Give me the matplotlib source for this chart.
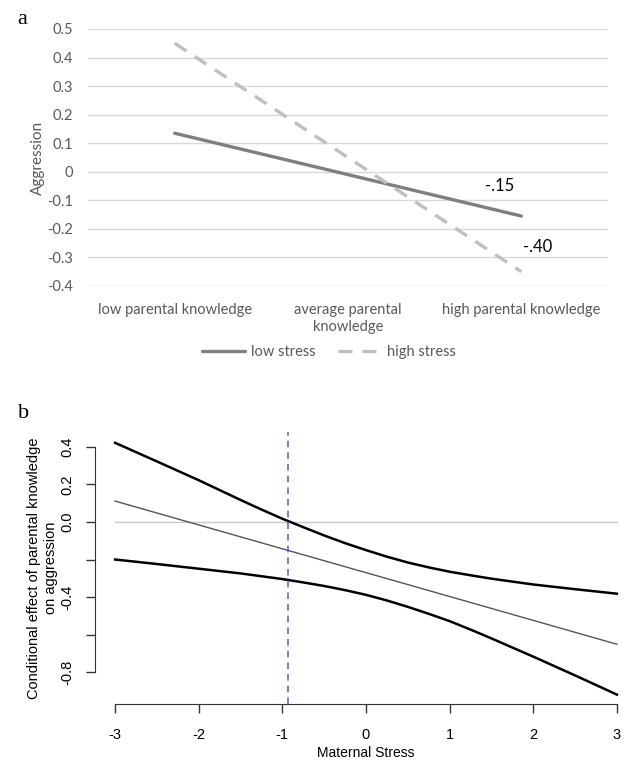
import matplotlib.pyplot as plt
import numpy as np

# panel a data (simple slopes)
categories = ['low parental knowledge', 'average parental\nknowledge', 'high parental knowledge']
low_stress = [0.135, -0.01, -0.155]
high_stress = [0.45, 0.05, -0.35]
slope_labels = ['-.15', '-.40']

# panel b data (Johnson-Neyman plot)
stress = [-3, -2.5, -2, -1.5, -1.25, -1, -0.75, -0.5, -0.25, 0, 0.25, 0.5, 0.75, 1, 1.25, 1.5, 2, 2.5, 3]
ci_upper = [0.421, 0.322, 0.222, 0.117, 0.066, 0.017, -0.028, -0.072, -0.113, -0.150,
            -0.185, -0.216, -0.242, -0.265, -0.284, -0.302, -0.333, -0.358, -0.382]
ci_lower = [-0.200, -0.224, -0.249, -0.274, -0.289, -0.304, -0.322, -0.341, -0.363, -0.388,
            -0.418, -0.452, -0.489, -0.528, -0.573, -0.620, -0.717, -0.817, -0.919]
effect_stress = [-3, 3]
effect = [0.111, -0.651]
jn_point = -0.93

fig = plt.figure(figsize=(6.28, 7.6), dpi=100)

# ---------- panel a ----------
grey_txt = '#595959'
axa = fig.add_axes([88/628, 1-286/760, 520/628, 257/760])
xa = np.arange(len(categories))
axa.plot(xa, low_stress, color='#7f7f7f', lw=2.4, solid_capstyle='round', label='low stress')
axa.plot(xa, high_stress, color='#bfbfbf', lw=2.4, dashes=(4.2, 3.0), label='high stress')
axa.set_xlim(-0.5, 2.5)
axa.set_ylim(-0.4, 0.5)
axa.set_yticks(np.arange(-0.4, 0.51, 0.1))
axa.set_yticklabels(['-0.4', '-0.3', '-0.2', '-0.1', '0', '0.1', '0.2', '0.3', '0.4', '0.5'])
axa.set_xticks(xa)
axa.set_xticklabels(categories, linespacing=1.3)
axa.grid(axis='y', color='#d9d9d9', lw=1)
axa.set_axisbelow(True)
for s in axa.spines.values():
    s.set_visible(False)
axa.tick_params(length=0, labelsize=10.5, labelcolor=grey_txt)
axa.tick_params(axis='y', pad=11)
axa.tick_params(axis='x', pad=12)
for lab in axa.get_xticklabels() + axa.get_yticklabels():
    lab.set_fontfamily('Lato')
axa.set_ylabel('Aggression', fontsize=11, color=grey_txt, family='Lato')
axa.yaxis.set_label_coords(-0.083, 0.5)
axa.text(1.877, -0.049, slope_labels[0], ha='center', va='center', fontsize=12, family='Lato')
axa.text(2.096, -0.262, slope_labels[1], ha='center', va='center', fontsize=12, family='Lato')
leg = fig.legend(loc='center', bbox_to_anchor=(329/628, 1-352/760), ncol=2, frameon=False,
                 handlelength=2.9, columnspacing=1.5, handletextpad=0.45,
                 prop={'family': 'Lato', 'size': 10.5})
for t in leg.get_texts():
    t.set_color(grey_txt)
fig.text(22/628, 1-20/760, 'a', fontsize=16, family='Liberation Serif', ha='center', va='center')

# ---------- panel b ----------
axb = fig.add_axes([95/628, 1-704/760, 542/628, 271.7/760])
axb.plot([-3, 3], [0, 0], color='#c8c8c8', lw=1)
axb.plot(stress, ci_upper, color='black', lw=1.8)
axb.plot(stress, ci_lower, color='black', lw=1.8)
axb.plot(effect_stress, effect, color='#555555', lw=1)
axb.axvline(jn_point, color='#4d6ef0', lw=1.2, dashes=(4, 3))
axb.set_xlim(-3.24, 3.24)
axb.set_ylim(-0.969, 0.477)
axb.spines['top'].set_visible(False)
axb.spines['right'].set_visible(False)
axb.spines['left'].set_bounds(-0.8, 0.4)
axb.spines['bottom'].set_bounds(-3, 3)
axb.spines['left'].set_color('#333333')
axb.spines['bottom'].set_color('#333333')
axb.set_xticks([-3, -2, -1, 0, 1, 2, 3])
axb.set_xticklabels(['-3', '-2', '-1', '0', '1', '2', '3'], family='Liberation Sans')
yt = [-0.8, -0.6, -0.4, -0.2, 0.0, 0.2, 0.4]
axb.set_yticks(yt)
axb.set_yticklabels(['-0.8', '', '-0.4', '', '0.0', '0.2', '0.4'], rotation=90, va='center',
                    family='Liberation Sans')
axb.tick_params(length=6.5, width=1, color='#333333', labelsize=10.5)
axb.tick_params(axis='x', pad=11)
axb.tick_params(axis='y', pad=8)
axb.set_xlabel('Maternal Stress', fontsize=10, family='Liberation Sans', labelpad=3)
axb.set_ylabel('Conditional effect of parental knowledge\non aggression', fontsize=10.5,
               family='Liberation Sans', linespacing=1.3)
axb.yaxis.set_label_coords(-0.068, 0.5)
fig.text(24/628, 1-413/760, 'b', fontsize=16, family='Liberation Serif', ha='center', va='center')

fig.savefig('out.png', dpi=100)
